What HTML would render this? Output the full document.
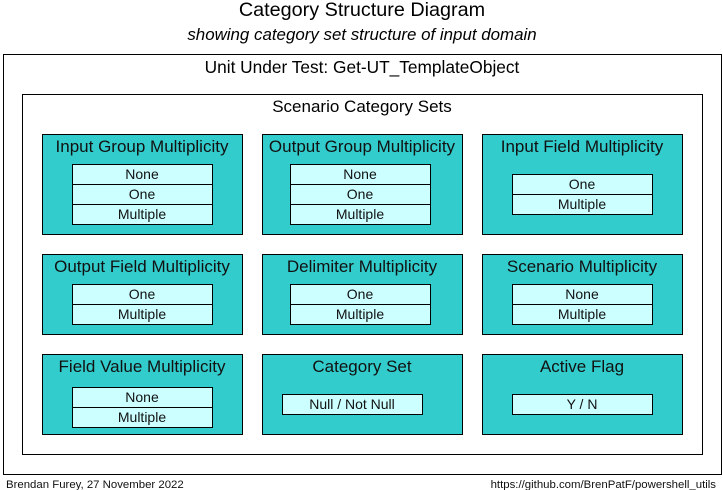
<!DOCTYPE html>
<html><head><meta charset="utf-8"><style>
body{margin:0;background:#fff;}
svg{display:block;font-family:"Liberation Sans",Arial,sans-serif;}
</style></head><body>
<svg width="723" height="490" viewBox="0 0 723 490" xmlns="http://www.w3.org/2000/svg">
<rect width="723" height="490" fill="#fff"/>
<text x="362" y="16" font-size="19.8" text-anchor="middle" fill="#000">Category Structure Diagram</text>
<text x="362" y="40" font-size="16.9" font-style="italic" text-anchor="middle" fill="#000">showing category set structure of input domain</text>
<rect x="3.5" y="54.5" width="718" height="420" fill="none" stroke="#000"/>
<text x="362" y="73" font-size="17.3" text-anchor="middle">Unit Under Test: Get-UT_TemplateObject</text>
<rect x="22.5" y="94.5" width="680" height="360" fill="none" stroke="#000"/>
<text x="362" y="112" font-size="17" text-anchor="middle">Scenario Category Sets</text>
<g stroke="#000">
<rect x="42.5" y="134.5" width="200" height="100" fill="#33cccc"/>
<rect x="262.5" y="134.5" width="200" height="100" fill="#33cccc"/>
<rect x="482.5" y="134.5" width="200" height="100" fill="#33cccc"/>
<rect x="42.5" y="254.5" width="200" height="80" fill="#33cccc"/>
<rect x="262.5" y="254.5" width="200" height="80" fill="#33cccc"/>
<rect x="482.5" y="254.5" width="200" height="80" fill="#33cccc"/>
<rect x="42.5" y="354.5" width="200" height="80" fill="#33cccc"/>
<rect x="262.5" y="354.5" width="200" height="80" fill="#33cccc"/>
<rect x="482.5" y="354.5" width="200" height="80" fill="#33cccc"/>
</g>
<g font-size="17" text-anchor="middle" fill="#111">
<text x="142" y="152">Input Group Multiplicity</text>
<text x="362" y="152">Output Group Multiplicity</text>
<text x="582" y="152">Input Field Multiplicity</text>
<text x="142" y="272">Output Field Multiplicity</text>
<text x="362" y="272">Delimiter Multiplicity</text>
<text x="582" y="272">Scenario Multiplicity</text>
<text x="142" y="372">Field Value Multiplicity</text>
<text x="362" y="372">Category Set</text>
<text x="582" y="372">Active Flag</text>
</g>
<g fill="#ccffff" stroke="#000">
<rect x="72.5" y="164.5" width="140" height="20"/><rect x="72.5" y="184.5" width="140" height="20"/><rect x="72.5" y="204.5" width="140" height="20"/>
<rect x="290.5" y="164.5" width="140" height="20"/><rect x="290.5" y="184.5" width="140" height="20"/><rect x="290.5" y="204.5" width="140" height="20"/>
<rect x="512.5" y="174.5" width="140" height="20"/><rect x="512.5" y="194.5" width="140" height="20"/>
<rect x="72.5" y="284.5" width="140" height="20"/><rect x="72.5" y="304.5" width="140" height="20"/>
<rect x="290.5" y="284.5" width="140" height="20"/><rect x="290.5" y="304.5" width="140" height="20"/>
<rect x="512.5" y="284.5" width="140" height="20"/><rect x="512.5" y="304.5" width="140" height="20"/>
<rect x="72.5" y="387.5" width="140" height="20"/><rect x="72.5" y="407.5" width="140" height="20"/>
<rect x="282.5" y="394.5" width="140" height="20"/>
<rect x="512.5" y="394.5" width="140" height="20"/>
</g>
<g font-size="14" text-anchor="middle" fill="#111">
<text x="142" y="179">None</text><text x="142" y="199">One</text><text x="142" y="219">Multiple</text>
<text x="360" y="179">None</text><text x="360" y="199">One</text><text x="360" y="219">Multiple</text>
<text x="582" y="189">One</text><text x="582" y="209">Multiple</text>
<text x="142" y="299">One</text><text x="142" y="319">Multiple</text>
<text x="360" y="299">One</text><text x="360" y="319">Multiple</text>
<text x="582" y="299">None</text><text x="582" y="319">Multiple</text>
<text x="142" y="402">None</text><text x="142" y="422">Multiple</text>
<text x="352" y="409">Null / Not Null</text>
<text x="582" y="409">Y / N</text>
</g>
<text x="6" y="488" font-size="11.4" fill="#111">Brendan Furey, 27 November 2022</text>
<text x="716" y="488" font-size="11.4" text-anchor="end" fill="#111">https://github.com/BrenPatF/powershell_utils</text>
</svg>
</body></html>
